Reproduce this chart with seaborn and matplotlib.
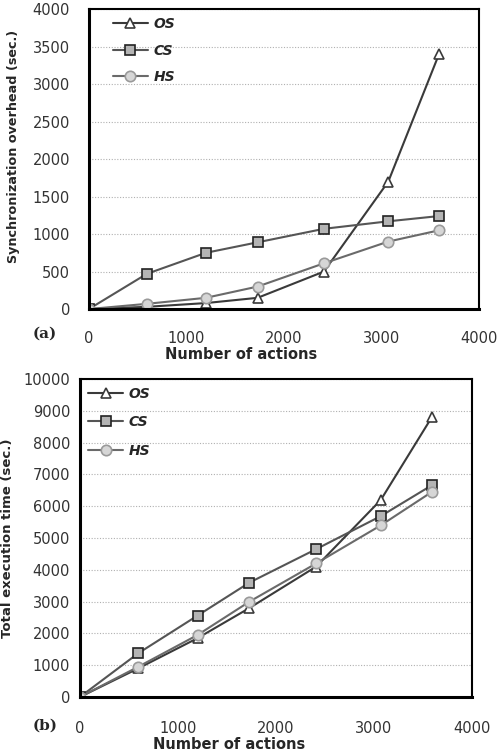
import matplotlib
matplotlib.use("Agg")
import matplotlib.pyplot as plt
import seaborn as sns

# Data
actions = [0, 595, 1200, 1730, 2410, 3070, 3590]
sync_os = [0, 30, 80, 150, 500, 1700, 3400]
sync_cs = [0, 470, 750, 890, 1070, 1170, 1240]
sync_hs = [0, 70, 150, 300, 610, 900, 1050]
total_os = [0, 900, 1850, 2800, 4100, 6200, 8800]
total_cs = [0, 1375, 2560, 3600, 4650, 5690, 6660]
total_hs = [0, 950, 1950, 3000, 4200, 5400, 6450]
series_names = ["OS", "CS", "HS"]

sns.set_style("white")
plt.rcParams['font.family'] = ['DejaVu Sans']

styles = {
    "OS": dict(marker="^", color="#3a3a3a", markerfacecolor="white", markeredgecolor="#3a3a3a", markersize=7.5),
    "CS": dict(marker="s", color="#555555", markerfacecolor="#b4b4b4", markeredgecolor="#222222", markersize=6.5),
    "HS": dict(marker="o", color="#6a6a6a", markerfacecolor="#d6d6d6", markeredgecolor="#9a9a9a", markersize=7.5),
}

fig = plt.figure(figsize=(4.99, 7.52), dpi=100)
ax1 = fig.add_axes([0.178, 0.589, 0.782, 0.399])
ax2 = fig.add_axes([0.160, 0.0731, 0.786, 0.4229])


def draw(ax, ys, ymax, ystep, ylabel, ylsize, tag, tagy, ylab_pos, xlab_pos, xpad, ypad,
         leg_x, leg_space):
    for name, y in zip(series_names, ys):
        sns.lineplot(x=actions, y=y, ax=ax, label=name, linewidth=1.5,
                     markeredgewidth=1.2, **styles[name])
    ax.set_xlim(0, 4000)
    ax.set_ylim(0, ymax)
    ax.set_xticks(range(0, 4001, 1000))
    ax.set_yticks(range(0, ymax + 1, ystep))
    for t in ax.get_yticks()[1:]:
        ax.axhline(t, color="#b0b0b0", linestyle=(0, (1, 1.5)), linewidth=0.8, zorder=0)
    for s in ax.spines.values():
        s.set_color("black")
        s.set_linewidth(1.5)
    ax.spines["left"].set_linewidth(2.2)
    ax.spines["bottom"].set_linewidth(2.2)
    ax.tick_params(axis="both", direction="out", length=4, width=1, color="#222222",
                   labelsize=10.5, labelcolor="#333333")
    ax.tick_params(axis="x", pad=xpad)
    ax.tick_params(axis="y", pad=ypad)
    ax.set_xlabel("Number of actions", fontsize=10.5, fontweight="bold")
    ax.xaxis.set_label_coords(*xlab_pos)
    ax.set_ylabel(ylabel, fontsize=ylsize, fontweight="bold")
    ax.yaxis.set_label_coords(*ylab_pos)
    fig.text(0.09, tagy, tag, fontsize=11, fontweight="bold", family="DejaVu Serif",
             ha="center", va="center")
    ax.legend(loc="upper left", frameon=False, handlelength=2.5, handletextpad=0.4,
              labelspacing=leg_space, bbox_to_anchor=(leg_x, 1.015),
              prop=dict(weight="bold", style="italic", size=10))


draw(ax1, [sync_os, sync_cs, sync_hs], 4000, 500, "Synchronization overhead (sec.)", 9.2,
     "(a)", 1 - 334 / 752, (-0.177, 0.543), (0.39, -0.125), 11.5, 9.5, 0.03, 0.9)
draw(ax2, [total_os, total_cs, total_hs], 10000, 1000, "Total execution time (sec.)", 9.5,
     "(b)", 1 - 726 / 752, (-0.168, 0.5), (0.38, -0.126), 13, 3, -0.01, 1.05)

fig.savefig("out.png", dpi=100)
